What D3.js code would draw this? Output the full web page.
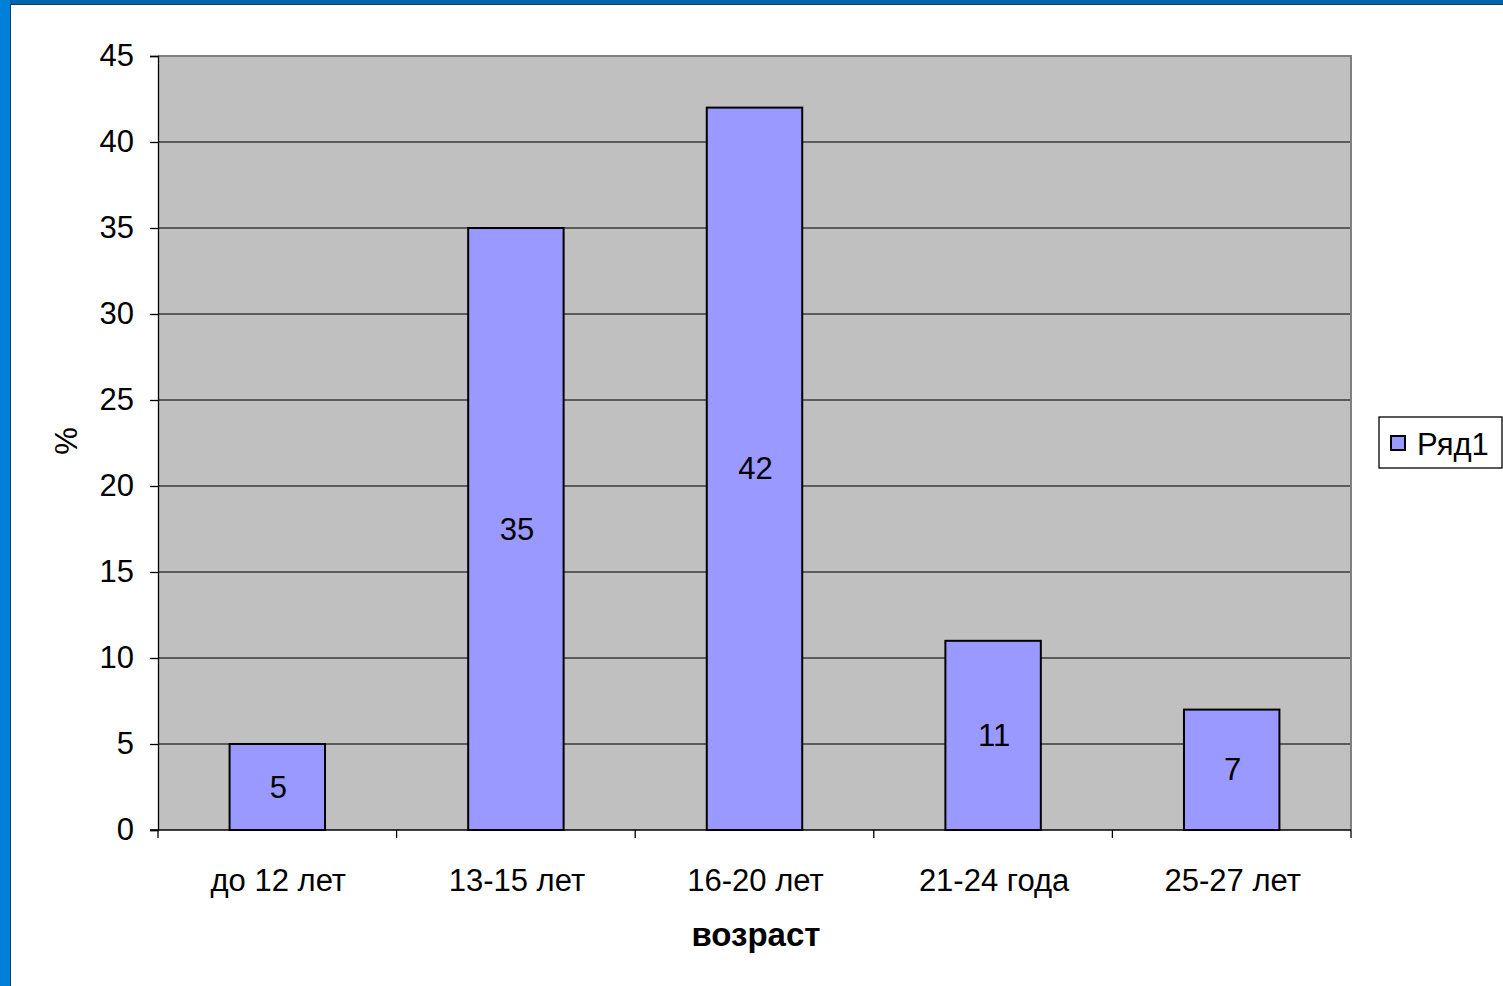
<!DOCTYPE html>
<html>
<head>
<meta charset="utf-8">
<script src="https://cdn.jsdelivr.net/npm/d3@7"></script>
<style>
  html, body { margin: 0; padding: 0; background: #fff; }
  svg { display: block; }
  text { font-family: Arial, "Liberation Sans", sans-serif; fill: #000; }
</style>
</head>
<body>
<svg id="chart" width="1503" height="986"></svg>
<script>
// Age groups and share of respondents (%)
const categories = ["до 12 лет", "13-15 лет", "16-20 лет", "21-24 года", "25-27 лет"];
const values = [5, 35, 42, 11, 7];
const yTicks = [0, 5, 10, 15, 20, 25, 30, 35, 40, 45];
const seriesName = "Ряд1";
const xTitle = "возраст";
const yTitle = "%";

const W = 1503, H = 986;
const plot = { left: 158, top: 56, right: 1351, bottom: 830 };
const FS = 31;

const svg = d3.select("#chart");

// slide frame: blue strips on top and left
svg.append("rect").attr("x", 0).attr("y", 0).attr("width", W).attr("height", 4).attr("fill", "#0064b0");
svg.append("rect").attr("x", 0).attr("y", 4).attr("width", W).attr("height", 1).attr("fill", "#1c3c5c");
svg.append("rect").attr("x", 0).attr("y", 0).attr("width", 10).attr("height", H).attr("fill", "#0080d8");
svg.append("rect").attr("x", 10).attr("y", 5).attr("width", 1).attr("height", H).attr("fill", "#1c3c5c");

const x = d3.scaleBand()
  .domain(categories)
  .range([plot.left, plot.right])
  .paddingInner(0.6)
  .paddingOuter(0.3);

const y = d3.scaleLinear()
  .domain([0, 45])
  .range([plot.bottom, plot.top]);

// plot area background
svg.append("rect")
  .attr("x", plot.left).attr("y", plot.top)
  .attr("width", plot.right - plot.left).attr("height", plot.bottom - plot.top)
  .attr("fill", "#c0c0c0");

// horizontal gridlines
svg.append("g")
  .selectAll("line")
  .data(yTicks.filter(d => d > 0 && d < 45))
  .join("line")
  .attr("x1", plot.left).attr("x2", plot.right)
  .attr("y1", d => y(d)).attr("y2", d => y(d))
  .attr("stroke", "#3a3a3a").attr("stroke-width", 1.3);

// plot area top/right border
svg.append("path")
  .attr("d", `M${plot.left},${plot.top}H${plot.right}V${plot.bottom}`)
  .attr("fill", "none").attr("stroke", "#808080").attr("stroke-width", 2);

// bars
svg.append("g")
  .selectAll("rect")
  .data(values)
  .join("rect")
  .attr("x", (d, i) => x(categories[i]))
  .attr("y", d => y(d))
  .attr("width", x.bandwidth())
  .attr("height", d => y(0) - y(d))
  .attr("fill", "#9999ff")
  .attr("stroke", "#000").attr("stroke-width", 2);

// value labels in the middle of each bar
svg.append("g")
  .selectAll("text")
  .data(values)
  .join("text")
  .attr("x", (d, i) => x(categories[i]) + x.bandwidth() / 2 + 1)
  .attr("y", d => (y(d) + y(0)) / 2)
  .attr("text-anchor", "middle")
  .attr("dominant-baseline", "central")
  .attr("font-size", FS)
  .text(d => d);

// y axis
const yAxis = d3.axisLeft(y).tickValues(yTicks).tickSize(8).tickPadding(16);
const gy = svg.append("g").attr("transform", `translate(${plot.left},0)`).call(yAxis);
gy.select(".domain").attr("stroke", "#000").attr("stroke-width", 1.3);
gy.selectAll(".tick line").attr("stroke", "#000").attr("stroke-width", 1.3);
gy.selectAll(".tick text").attr("font-size", FS).attr("font-family", "Arial, 'Liberation Sans', sans-serif").attr("fill", "#000");

// x axis: ticks at category boundaries
const bounds = d3.range(categories.length + 1).map(i => plot.left + i * x.step());
const gx = svg.append("g");
gx.append("line")
  .attr("x1", plot.left - 8).attr("x2", plot.right)
  .attr("y1", plot.bottom).attr("y2", plot.bottom)
  .attr("stroke", "#000").attr("stroke-width", 1.3);
gx.selectAll("line.tk")
  .data(bounds)
  .join("line").attr("class", "tk")
  .attr("x1", d => d).attr("x2", d => d)
  .attr("y1", plot.bottom).attr("y2", plot.bottom + 8)
  .attr("stroke", "#000").attr("stroke-width", 1.3);
gx.selectAll("text")
  .data(categories)
  .join("text")
  .attr("x", d => x(d) + x.bandwidth() / 2 + 1)
  .attr("y", 891)
  .attr("text-anchor", "middle")
  .attr("font-size", FS)
  .text(d => d);

// axis titles
svg.append("text")
  .attr("x", 756).attr("y", 946)
  .attr("text-anchor", "middle")
  .attr("font-size", 33).attr("font-weight", "bold")
  .text(xTitle);

svg.append("text")
  .attr("transform", "translate(77,441) rotate(-90)")
  .attr("text-anchor", "middle")
  .attr("font-size", FS)
  .text(yTitle);

// legend
const lg = svg.append("g").attr("transform", "translate(1379,417)");
lg.append("rect").attr("width", 123).attr("height", 51)
  .attr("fill", "#fff").attr("stroke", "#000").attr("stroke-width", 1.3);
lg.append("rect").attr("x", 12).attr("y", 19).attr("width", 14).attr("height", 14)
  .attr("fill", "#9999ff").attr("stroke", "#000").attr("stroke-width", 2);
lg.append("text").attr("x", 38).attr("y", 38).attr("font-size", FS).text(seriesName);
</script>
</body>
</html>
